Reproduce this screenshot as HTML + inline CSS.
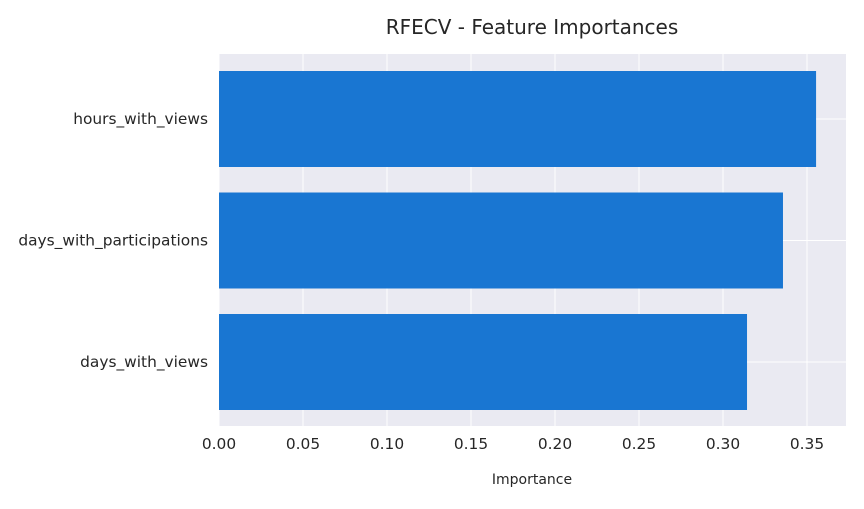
<!DOCTYPE html>
<html><head><meta charset="utf-8"><style>
body{margin:0;background:#fff;}
svg text{font-family:"DejaVu Sans","Liberation Sans",sans-serif;fill:#262626;}
</style></head><body>
<svg id="chart" width="864" height="504" xmlns="http://www.w3.org/2000/svg">
<text x="532" y="34" font-size="20" text-anchor="middle">RFECV - Feature Importances</text>
<rect x="219" y="54" width="627" height="372" fill="#EAEAF2"/>
<g id="grid"></g><g id="bars"></g><g id="xticks"></g><g id="yticks"></g>
<text x="532" y="484" font-size="14" text-anchor="middle">Importance</text>
</svg>
<script>
const categories=["days_with_views","days_with_participations","hours_with_views"];
const importances=[0.3143,0.3357,0.3554];
const xTickValues=[0,0.05,0.1,0.15,0.2,0.25,0.3,0.35];
const xTickLabels=["0.00","0.05","0.10","0.15","0.20","0.25","0.30","0.35"];
const NS="http://www.w3.org/2000/svg";
const x0=219,pxPerUnit=1680,plotLeft=219,plotRight=846,plotTop=54,plotBottom=426;
const xs=v=>x0+v*pxPerUnit;
const yc=i=>362-i*121.5;
const bh=96;
function mk(tag,attrs,parent){const e=document.createElementNS(NS,tag);for(const k in attrs)e.setAttribute(k,attrs[k]);document.getElementById(parent).appendChild(e);return e;}
xTickValues.forEach((v,i)=>{
  const l=mk('line',{x1:xs(v),x2:xs(v),y1:plotTop,y2:plotBottom,stroke:'#fff','stroke-width':1},'grid');
  
  
  const t=mk('text',{x:xs(v),y:449,'font-size':15.4,'text-anchor':'middle'},'xticks');
  t.textContent=xTickLabels[i];
  
  
});
categories.forEach((c,i)=>{
  const l=mk('line',{x1:plotLeft,x2:plotRight,y1:yc(i),y2:yc(i),stroke:'#fff','stroke-width':1},'grid');
  
  
  const b=mk('rect',{x:xs(0),y:yc(i)-bh/2,width:xs(importances[i])-xs(0),height:bh,fill:'#1976D2'},'bars');
  
  
  const t=mk('text',{x:208,y:yc(i)+5,'font-size':15.4,'text-anchor':'end'},'yticks');
  t.textContent=c;
  
  
});
</script>
</body></html>
